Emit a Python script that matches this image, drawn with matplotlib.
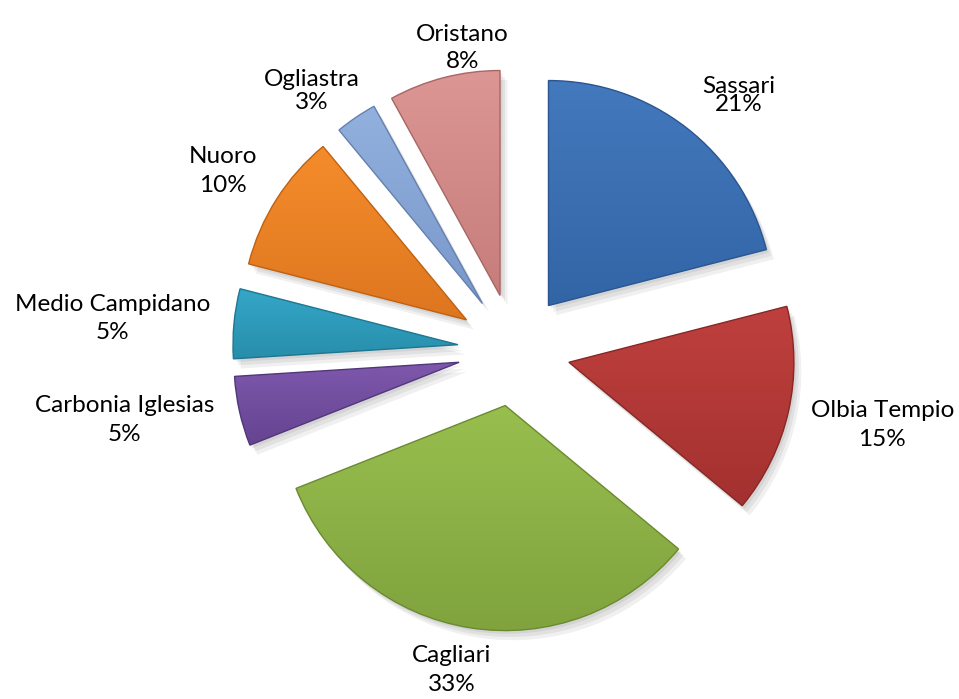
import numpy as np
import matplotlib
matplotlib.use("Agg")
import matplotlib.pyplot as plt
from matplotlib.colors import LinearSegmentedColormap
from matplotlib.patches import Wedge

# data
provinces = ["Sassari", "Olbia Tempio", "Cagliari", "Carbonia Iglesias",
             "Medio Campidano", "Nuoro", "Ogliastra", "Oristano"]
shares = [21, 15, 33, 5, 5, 10, 3, 8]

# style: light / dark tone of each slice
light = ["#4379BD", "#BF403E", "#98BE4E", "#7E58AC", "#35A7C8", "#F58C2B", "#93B1DE", "#DC9694"]
dark = ["#3265A6", "#A3312F", "#80A33E", "#654491", "#278EAB", "#DE7620", "#7898CB", "#C67D7B"]
edge = ["#2A5590", "#862826", "#6A8A30", "#513779", "#1E7690", "#BE6212", "#6581B0", "#A86664"]
# label placement: distance from centre (radii), angle tweak (deg), line spacing
label_r = [1.51, 1.67, 1.45, 1.76, 1.79, 1.52, 1.46, 1.36]
label_dang = [-3.7, 1.1, -2.0, -2.4, 0.9, 0.8, 3.7, -4.7]
label_ls = [0.85, 1.45, 1.45, 1.45, 1.4, 1.45, 1.15, 1.35]

plt.rcParams["font.family"] = ["Lato", "DejaVu Sans"]

fig = plt.figure(figsize=(9.59, 6.99), dpi=100)
ax = fig.add_axes([64 / 959, 11.5 / 699, 900 / 959, 675 / 699])

wedges, _ = ax.pie(shares, startangle=90, counterclock=False, radius=1.0,
                   explode=[0.25] * len(shares), wedgeprops=dict(linewidth=0))

for i, w in enumerate(wedges):
    w.set_facecolor("none")
    # soft shadow
    for k, a in enumerate([0.06, 0.06, 0.06]):
        off = 0.011 * (k + 1)
        sh = Wedge((w.center[0] + off, w.center[1] - off * 1.3), w.r, w.theta1, w.theta2,
                   facecolor="black", alpha=a, linewidth=0, zorder=1)
        ax.add_patch(sh)
    # gradient fill clipped to the slice
    x0, y0, x1, y1 = w.get_path().get_extents().extents
    cmap = LinearSegmentedColormap.from_list("g%d" % i, [dark[i], light[i]])
    grad = np.linspace(0, 1, 256).reshape(-1, 1)
    im = ax.imshow(grad, extent=[x0, x1, y0, y1], origin="lower", cmap=cmap,
                   aspect="auto", zorder=2, interpolation="bilinear")
    im.set_clip_path(w)
    w.set_zorder(3)
    w.set_edgecolor(edge[i])
    w.set_linewidth(1.0)

    mid = np.deg2rad((w.theta1 + w.theta2) / 2 + label_dang[i])
    tx = label_r[i] * np.cos(mid)
    ty = label_r[i] * np.sin(mid)
    ax.text(tx, ty, "%s\n%d%%" % (provinces[i], shares[i]), ha="center", va="center",
            multialignment="center", fontsize=17.5, color="black", linespacing=label_ls[i],
            zorder=5)

ax.set_xlim(-2.0, 2.0)
ax.set_ylim(-1.5, 1.5)
ax.set_aspect("auto")
ax.axis("off")

fig.savefig("out.png", dpi=100, facecolor="white")
